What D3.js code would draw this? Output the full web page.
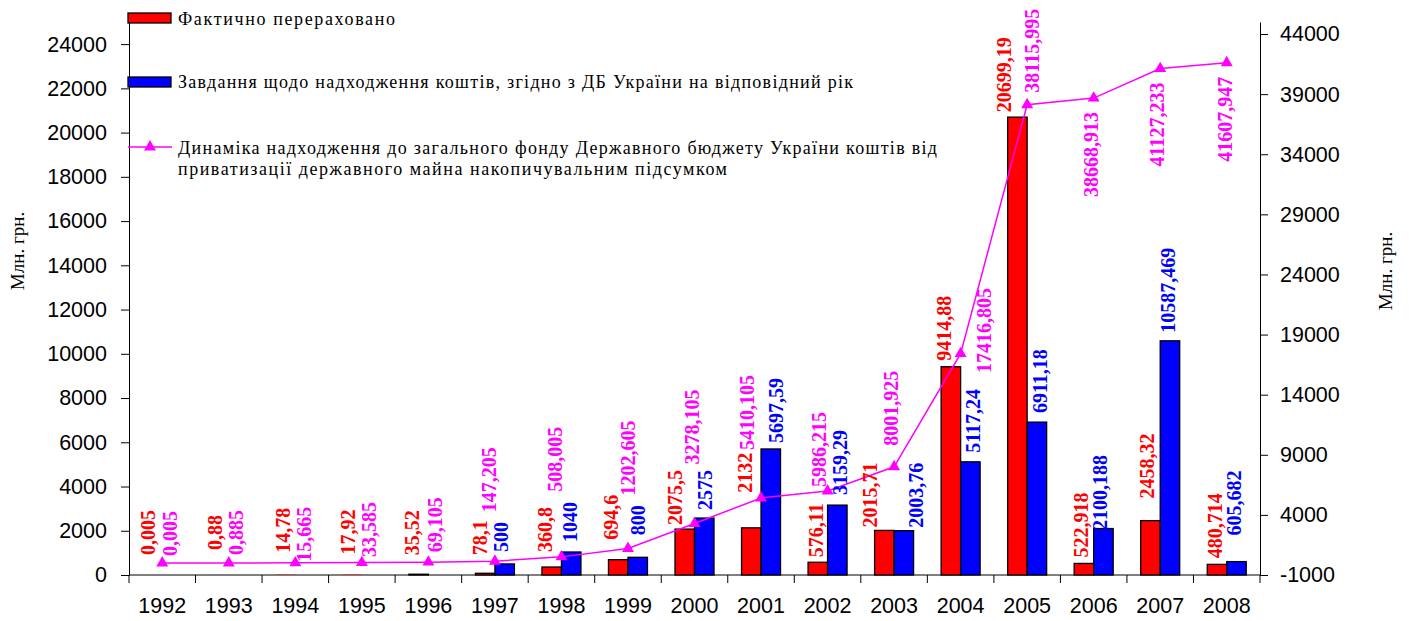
<!DOCTYPE html>
<html>
<head>
<meta charset="utf-8">
<script src="https://cdn.jsdelivr.net/npm/d3@7.9.0/dist/d3.min.js"></script>
<style>
  body { margin: 0; background: #fff; }
  svg { display: block; }
  .tick text { font-family: "Liberation Sans", Arial, sans-serif; font-size: 21.5px; fill: #000; }
  .lbl { font-family: "Liberation Serif", "Times New Roman", serif; font-weight: bold; font-size: 20px; }
  .legend text { font-family: "Liberation Serif", "Times New Roman", serif; font-size: 18px; fill: #000; }
  .ytitle { font-family: "Liberation Serif", "Times New Roman", serif; font-size: 19px; fill: #000; }
</style>
</head>
<body>
<svg id="chart" width="1409" height="621"></svg>
<script>
// years on the x axis
const years = [1992, 1993, 1994, 1995, 1996, 1997, 1998, 1999, 2000, 2001, 2002, 2003, 2004, 2005, 2006, 2007, 2008];

// actually transferred, mln UAH (left axis)
const transferred = [0.005, 0.88, 14.78, 17.92, 35.52, 78.1, 360.8, 694.6, 2075.5, 2132, 576.11, 2015.71, 9414.88, 20699.19, 522.918, 2458.32, 480.714];

// plan according to the state budget, mln UAH (left axis)
const planned = [null, null, null, null, null, 500, 1040, 800, 2575, 5697.59, 3159.29, 2003.76, 5117.24, 6911.18, 2100.188, 10587.469, 605.682];

// cumulative receipts, mln UAH (right axis)
const cumulative = [0.005, 0.885, 15.665, 33.585, 69.105, 147.205, 508.005, 1202.605, 3278.105, 5410.105, 5986.215, 8001.925, 17416.805, 38115.995, 38668.913, 41127.233, 41607.947];

const leftTicks = [0, 2000, 4000, 6000, 8000, 10000, 12000, 14000, 16000, 18000, 20000, 22000, 24000];
const rightTicks = [-1000, 4000, 9000, 14000, 19000, 24000, 29000, 34000, 39000, 44000];

const legendNames = [
  "Фактично перераховано",
  "Завдання щодо надходження коштів, згідно з ДБ України на відповідний рік",
  "Динаміка надходження до загального фонду Державного бюджету України коштів від",
  "приватизації державного майна накопичувальним підсумком"
];
const axisTitle = "Млн. грн.";

// hand placement of data labels (offsets from the default spot, like in the original)
const redDx  = [-4, -4, -2, -4, -6, -5, -7, -7, -9.5, -6, -2, -14, -6.6, -13, -3, -3, -2];
const redGap = [20, 25, 22, 20, 19, 18, 15, 20, 4, 35, 5, 3, 6, 5, 6, 22, 6];
const blueDx  = [0, 0, 0, 0, 0, -3, -1.5, 0, 1, 5, 2.5, 12, 3, 3, -3, -2, -2];
const blueGap = [0, 0, 0, 0, 0, 12, 10, 22, 8, 6, 10, 3, 9, 9, -1.5, 8, 26];
const pinkDx  = [8, 7, 9, 7.5, 7, -6, -6, 0, -2, -13.5, -8, -2.5, 24, 5, -2, -3, -2];
const pinkGap = [7, 8, 1, 5.6, 10, 49, 65, 53, 59, 48, 4, 21, -19.5, 12, 14, 14, 14];
const pinkBelow = [2006, 2007, 2008];

const RED = "#ff0000", BLUE = "#0000ff", PINK = "#ff00ff";
const fmt = v => String(v).replace(".", ",");

const svg = d3.select("#chart");
const plotLeft = 129, plotRight = 1260, plotTop = 22, plotBottom = 575;

const x = d3.scaleBand().domain(years).range([plotLeft, plotRight]).padding(0);
const sub = d3.scaleBand().domain(["fact", "plan"]).range([-19.5, 19.5]);
const yL = d3.scaleLinear().domain([0, 25000]).range([plotBottom, plotTop]);
const yR = d3.scaleLinear().domain([-1000, 45000]).range([plotBottom, plotTop]);
const cx = yr => x(yr) + x.bandwidth() / 2;

// axes
svg.append("g").attr("transform", `translate(${plotLeft},0)`)
  .call(d3.axisLeft(yL).tickValues(leftTicks).tickSize(8).tickSizeOuter(0).tickPadding(14).tickFormat(d => d));
svg.append("g").attr("transform", `translate(${plotRight},0)`)
  .call(d3.axisRight(yR).tickValues(rightTicks).tickSize(8).tickSizeOuter(0).tickPadding(12).tickFormat(d => d));
const gX = svg.append("g").attr("transform", `translate(0,${plotBottom})`)
  .call(d3.axisBottom(x).tickSize(0).tickPadding(23));
gX.select(".domain").attr("d", `M${plotLeft},0H${plotRight}`);
gX.selectAll(".boundary")
  .data(years.map(yr => x(yr)).concat([plotRight]))
  .join("line").attr("class", "boundary")
  .attr("x1", d => d).attr("x2", d => d).attr("y1", 0).attr("y2", 8)
  .attr("stroke", "#000");
svg.selectAll(".domain, .tick line").attr("stroke", "#000");

// bars (bars thinner than a pixel get no outline, as in the original)
const outline = h => h < 0.6 ? "none" : "#000";
const bars = svg.append("g");
bars.selectAll(".fact").data(years).join("rect")
  .attr("x", yr => cx(yr) + sub("fact")).attr("width", sub.bandwidth())
  .attr("y", (yr, i) => yL(transferred[i])).attr("height", (yr, i) => plotBottom - yL(transferred[i]))
  .attr("fill", RED).attr("stroke", (yr, i) => outline(plotBottom - yL(transferred[i]))).attr("stroke-width", 1.3);
bars.selectAll(".plan").data(years.filter((yr, i) => planned[i] != null)).join("rect")
  .attr("x", yr => cx(yr) + sub("plan")).attr("width", sub.bandwidth())
  .attr("y", yr => yL(planned[years.indexOf(yr)]))
  .attr("height", yr => plotBottom - yL(planned[years.indexOf(yr)]))
  .attr("fill", BLUE).attr("stroke", "#000").attr("stroke-width", 1.3);

// cumulative line
const tri = d3.symbol(d3.symbolTriangle, 62);
svg.append("path")
  .attr("d", d3.line().x((v, i) => cx(years[i])).y(v => yR(v))(cumulative))
  .attr("fill", "none").attr("stroke", PINK).attr("stroke-width", 1.5);
svg.append("g").selectAll("path").data(cumulative).join("path")
  .attr("d", tri)
  .attr("transform", (v, i) => `translate(${cx(years[i])},${yR(v)})`)
  .attr("fill", PINK);

// data labels (rotated)
function label(g, px, py, text, color, anchor) {
  g.append("text").attr("class", "lbl")
    .attr("transform", `translate(${px},${py}) rotate(-90)`)
    .attr("dy", "0.34em").attr("text-anchor", anchor || "start")
    .attr("fill", color).text(text);
}
const labels = svg.append("g");
years.forEach((yr, i) => {
  label(labels, cx(yr) + sub("fact") + sub.bandwidth() / 2 + redDx[i], yL(transferred[i]) - redGap[i], fmt(transferred[i]), RED);
  if (planned[i] != null) {
    label(labels, cx(yr) + sub("plan") + sub.bandwidth() / 2 + blueDx[i], yL(planned[i]) - blueGap[i], fmt(planned[i]), BLUE);
  }
  if (pinkBelow.includes(yr)) {
    label(labels, cx(yr) + pinkDx[i], yR(cumulative[i]) + pinkGap[i], fmt(cumulative[i]), PINK, "end");
  } else {
    label(labels, cx(yr) + pinkDx[i], yR(cumulative[i]) - pinkGap[i], fmt(cumulative[i]), PINK);
  }
});

// legend
const lg = svg.append("g").attr("class", "legend");
lg.append("rect").attr("x", 128).attr("y", 13).attr("width", 43).attr("height", 10)
  .attr("fill", RED).attr("stroke", "#000").attr("stroke-width", 1.3);
lg.append("text").attr("x", 178).attr("y", 24.5).attr("textLength", 217).attr("lengthAdjust", "spacing").text(legendNames[0]);
lg.append("rect").attr("x", 128).attr("y", 77).attr("width", 43).attr("height", 10)
  .attr("fill", BLUE).attr("stroke", "#000").attr("stroke-width", 1.3);
lg.append("text").attr("x", 178).attr("y", 88).attr("textLength", 675).attr("lengthAdjust", "spacing").text(legendNames[1]);
lg.append("line").attr("x1", 128).attr("x2", 172).attr("y1", 147).attr("y2", 147)
  .attr("stroke", PINK).attr("stroke-width", 1.5);
lg.append("path").attr("d", tri).attr("transform", "translate(150,147)").attr("fill", PINK);
lg.append("text").attr("x", 178).attr("y", 154).attr("textLength", 759).attr("lengthAdjust", "spacing").text(legendNames[2]);
lg.append("text").attr("x", 178).attr("y", 175).attr("textLength", 549).attr("lengthAdjust", "spacing").text(legendNames[3]);

// axis titles
svg.append("text").attr("class", "ytitle").attr("text-anchor", "middle").attr("dy", "0.35em")
  .attr("transform", "translate(17,251) rotate(-90)").text(axisTitle);
svg.append("text").attr("class", "ytitle").attr("text-anchor", "middle").attr("dy", "0.35em")
  .attr("transform", "translate(1385,271) rotate(-90)").text(axisTitle);
</script>
</body>
</html>
